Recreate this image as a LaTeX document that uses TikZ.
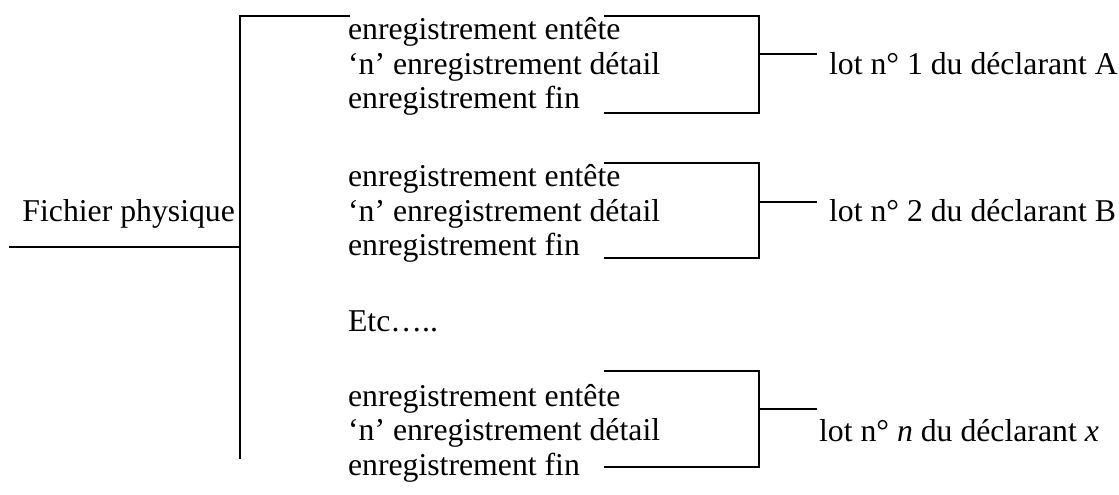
\documentclass[tikz,border=0pt]{standalone}
\usepackage{fontspec}
\setmainfont{Liberation Serif}
\begin{document}
\begin{tikzpicture}[x=0.378pt,y=-0.378pt,line width=0.8pt,
    font=\fontsize{12}{14}\selectfont,
    every node/.style={inner sep=0pt,anchor=base west}]
  \useasboundingbox (0,0) rectangle (1119,495);
  \draw
    (236,222) node[anchor=base east] (fp){Fichier physique}
    (347,40) node (e1){enregistrement entête}
    (347,75) node (d1){‘n’ enregistrement détail}
    (347,109) node (f1){enregistrement fin}
    (347,187) node (e2){enregistrement entête}
    (347,222) node (d2){‘n’ enregistrement détail}
    (347,256) node (f2){enregistrement fin}
    (347,332) node (etc){Etc…..}
    (347,407) node (e3){enregistrement entête}
    (347,441) node (d3){‘n’ enregistrement détail}
    (347,476) node (f3){enregistrement fin}
    (828,75) node (lot1){lot n° 1 du déclarant A}
    (828,222) node (lot2){lot n° 2 du déclarant B}
    (818,442) node (lot3){lot n° \textit{n} du déclarant \textit{x}};
  % fichier
  \coordinate (a0) at (240,16);
  \coordinate (a1) at (350,16);
  \coordinate (a2) at (240,459);
  \coordinate (g0) at (9,247);
  \coordinate (g1) at (240,247);
  % lots
  \coordinate (p1) at (604,16);
  \coordinate (q1) at (759,16);
  \coordinate (r1) at (759,113);
  \coordinate (u1) at (604,113);
  \coordinate (m1) at (759,54);
  \coordinate (n1) at (817,54);
  \coordinate (p2) at (604,163);
  \coordinate (q2) at (759,163);
  \coordinate (r2) at (759,258);
  \coordinate (u2) at (604,258);
  \coordinate (m2) at (759,202);
  \coordinate (n2) at (817,202);
  \coordinate (p3) at (604,371);
  \coordinate (q3) at (759,371);
  \coordinate (r3) at (759,467);
  \coordinate (u3) at (604,467);
  \coordinate (m3) at (759,409);
  \coordinate (n3) at (817,409);
  \begin{scope}[-]
    \draw (a1) -- (a0) -- (a2);
    \draw (g0) -- (g1);
    \draw (p1) -- (q1) -- (r1) -- (u1);
    \draw (m1) -- (n1);
    \draw (p2) -- (q2) -- (r2) -- (u2);
    \draw (m2) -- (n2);
    \draw (p3) -- (q3) -- (r3) -- (u3);
    \draw (m3) -- (n3);
  \end{scope}
\end{tikzpicture}
\end{document}
